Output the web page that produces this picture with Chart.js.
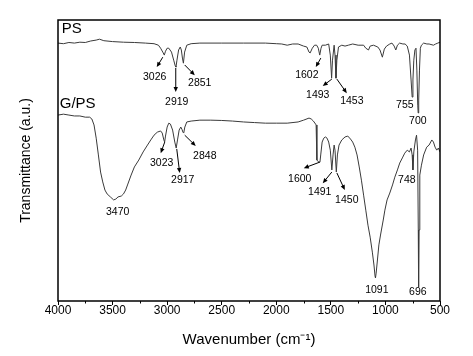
<!DOCTYPE html>
<html>
<head>
<meta charset="utf-8">
<script src="https://cdn.jsdelivr.net/npm/chart.js@4.4.0/dist/chart.umd.min.js"></script>
<style>
  html, body { margin: 0; padding: 0; background: #fff; }
  canvas { display: block; }
</style>
</head>
<body>
<canvas id="ftir" width="473" height="356"></canvas>
<script>
// wavenumber (cm-1) and transmittance (a.u.)
const psWave = [4000, 3950, 3900, 3850, 3800, 3750, 3700, 3650, 3620, 3580, 3500, 3400, 3300, 3200, 3120, 3080, 3060, 3040, 3026, 3015, 3000, 2985, 2960, 2940, 2925, 2919, 2910, 2895, 2880, 2870, 2860, 2851, 2840, 2820, 2780, 2700, 2500, 2300, 2100, 2000, 1950, 1900, 1850, 1800, 1750, 1720, 1700, 1690, 1670, 1650, 1630, 1615, 1602, 1590, 1580, 1550, 1520, 1505, 1493, 1485, 1470, 1462, 1453, 1445, 1430, 1400, 1370, 1340, 1300, 1250, 1200, 1180, 1155, 1140, 1110, 1070, 1050, 1028, 1010, 990, 960, 940, 920, 905, 890, 870, 840, 820, 800, 780, 765, 755, 748, 740, 730, 720, 712, 704, 700, 695, 688, 680, 670, 650, 620, 600, 560, 540, 520, 500]
const psT = [86.0, 85.8, 86.2, 86.0, 86.3, 86.2, 86.7, 87.0, 87.3, 86.8, 86.5, 86.3, 86.2, 86.0, 85.8, 85.3, 84.3, 83.0, 82.0, 83.3, 84.3, 84.3, 83.0, 80.3, 78.3, 78.0, 80.3, 83.7, 84.7, 83.7, 81.0, 79.3, 83.0, 85.3, 85.8, 86.0, 86.0, 86.0, 86.0, 85.8, 85.7, 85.3, 85.7, 85.7, 85.0, 84.7, 83.0, 82.7, 84.3, 85.3, 85.3, 84.3, 82.0, 84.3, 85.3, 85.3, 85.7, 82.0, 74.3, 80.3, 85.3, 82.0, 74.3, 80.3, 84.7, 85.3, 85.0, 85.3, 85.7, 85.3, 85.3, 84.3, 83.7, 85.0, 85.3, 84.7, 83.7, 81.3, 84.0, 85.0, 85.7, 86.0, 85.0, 83.7, 85.3, 86.0, 85.7, 85.7, 85.0, 82.0, 73.7, 68.0, 73.7, 80.3, 83.7, 84.3, 77.0, 65.3, 62.7, 67.0, 77.0, 84.3, 85.3, 86.0, 85.7, 85.7, 85.3, 85.7, 86.0, 86.3]

const gpsWave = [4000, 3950, 3900, 3850, 3800, 3750, 3710, 3690, 3670, 3650, 3630, 3610, 3590, 3570, 3550, 3520, 3490, 3470, 3450, 3420, 3400, 3380, 3360, 3330, 3300, 3260, 3220, 3180, 3150, 3120, 3090, 3060, 3045, 3030, 3023, 3015, 3000, 2985, 2970, 2950, 2930, 2917, 2905, 2890, 2875, 2865, 2855, 2848, 2838, 2820, 2780, 2700, 2600, 2500, 2400, 2300, 2200, 2100, 2000, 1900, 1800, 1750, 1700, 1680, 1660, 1640, 1635, 1628, 1610, 1600, 1592, 1580, 1565, 1550, 1535, 1520, 1505, 1491, 1480, 1470, 1462, 1450, 1440, 1425, 1400, 1370, 1345, 1320, 1300, 1280, 1260, 1240, 1220, 1200, 1180, 1160, 1140, 1120, 1105, 1095, 1091, 1085, 1075, 1060, 1045, 1035, 1020, 1005, 985, 960, 935, 914, 890, 869, 845, 823, 800, 780, 765, 755, 748, 740, 725, 715, 705, 699, 696, 692, 685, 670, 650, 622, 600, 575, 560, 545, 530, 515, 500]
const gpsT = [62.0, 62.3, 62.0, 61.7, 61.7, 61.3, 61.3, 60.7, 58.7, 54.3, 48.7, 43.0, 39.7, 37.0, 35.7, 34.7, 33.7, 34.0, 34.7, 35.0, 35.7, 37.0, 39.0, 42.0, 44.7, 47.0, 49.7, 52.0, 53.7, 55.3, 56.3, 56.7, 56.0, 53.7, 53.0, 55.0, 58.0, 59.3, 59.0, 57.0, 53.0, 51.0, 53.7, 57.0, 58.0, 57.3, 56.3, 56.0, 58.0, 59.7, 60.0, 60.3, 60.3, 60.2, 60.0, 59.7, 59.5, 59.3, 59.3, 59.3, 59.7, 60.3, 61.0, 60.7, 60.0, 59.0, 58.7, 47.0, 46.3, 46.3, 49.0, 53.0, 54.3, 54.7, 54.3, 53.0, 50.3, 43.7, 48.7, 52.0, 50.3, 43.0, 48.7, 52.0, 53.7, 54.7, 55.0, 54.0, 53.0, 51.3, 48.7, 44.7, 40.3, 35.3, 30.3, 25.3, 21.3, 16.3, 12.0, 8.3, 7.7, 9.3, 13.0, 18.7, 22.0, 24.0, 27.0, 30.3, 33.7, 36.0, 38.7, 41.3, 43.7, 46.0, 47.7, 49.3, 50.3, 49.7, 51.0, 48.7, 43.7, 49.7, 53.7, 55.3, 50.3, 23.7, 4.7, 23.7, 42.0, 45.3, 48.7, 51.3, 52.0, 53.7, 53.0, 51.3, 50.3, 51.0, 49.7]

const xTickStep = 500
const xMinorStep = 250

// peak labels: text position and optional arrow (from -> to), in wavenumber / transmittance
const notes = [
    {text: 'PS', x: 3966, y: 90.7, size: 15, align: 'left'},
    {text: 'G/PS', x: 3984, y: 65.7, size: 15, align: 'left'},
    {text: '3026', x: 3114, y: 74.7, arrow: [3040, 81.3, 3095, 78.0]},
    {text: '2919', x: 2912, y: 66.3, arrow: [2921, 77.7, 2921, 69.7]},
    {text: '2851', x: 2701, y: 72.7, arrow: [2839, 78.7, 2747, 75.3]},
    {text: '1602', x: 1720, y: 75.3, arrow: [1592, 81.0, 1638, 78.0]},
    {text: '1493', x: 1620, y: 68.7, arrow: [1491, 74.0, 1574, 71.7]},
    {text: '1453', x: 1308, y: 66.7, arrow: [1445, 74.0, 1354, 69.3]},
    {text: '755', x: 822, y: 65.3},
    {text: '700', x: 703, y: 60.0},
    {text: '3470', x: 3453, y: 29.7},
    {text: '3023', x: 3050, y: 46.0, arrow: [3022, 53.0, 3059, 49.3]},
    {text: '2917', x: 2857, y: 40.3, arrow: [2912, 50.7, 2885, 42.7]},
    {text: '2848', x: 2655, y: 48.3, arrow: [2839, 55.3, 2738, 51.7]},
    {text: '1600', x: 1785, y: 40.7, arrow: [1602, 46.3, 1748, 44.3]},
    {text: '1491', x: 1602, y: 36.3, arrow: [1491, 43.0, 1574, 39.3]},
    {text: '1450', x: 1354, y: 33.7, arrow: [1445, 42.7, 1372, 37.0]},
    {text: '748', x: 804, y: 40.3},
    {text: '1091', x: 1079, y: 3.7},
    {text: '696', x: 703, y: 3.0},
]

const fontFamily = '"Liberation Sans", Arial, sans-serif'

function toPoints(xs, ys) {
    return xs.map((x, i) => ({x: x, y: ys[i]}))
}

// frame around the plot plus short minor ticks on the x axis
const framePlugin = {
    id: 'frame',
    afterDraw(chart) {
        const {ctx, chartArea} = chart
        const xScale = chart.scales.x
        ctx.save()
        ctx.strokeStyle = '#000'
        ctx.lineWidth = 1
        for (let v = xScale.min + xMinorStep; v < xScale.max; v += xTickStep) {
            const px = Math.round(xScale.getPixelForValue(v)) + 0.5
            ctx.beginPath()
            ctx.moveTo(px, chartArea.bottom)
            ctx.lineTo(px, chartArea.bottom + 2.5)
            ctx.stroke()
        }
        ctx.lineWidth = 1.5
        ctx.strokeRect(chartArea.left, chartArea.top, chartArea.right - chartArea.left, chartArea.bottom - chartArea.top)
        ctx.restore()
    }
}

const notePlugin = {
    id: 'notes',
    afterDatasetsDraw(chart) {
        const {ctx} = chart
        const xs = chart.scales.x
        const ys = chart.scales.y
        ctx.save()
        ctx.fillStyle = '#000'
        ctx.strokeStyle = '#000'
        ctx.lineWidth = 1
        notes.forEach(n => {
            ctx.font = (n.size || 10.5) + 'px ' + fontFamily
            ctx.textAlign = n.align || 'center'
            ctx.textBaseline = 'middle'
            ctx.fillText(n.text, xs.getPixelForValue(n.x), ys.getPixelForValue(n.y))
            if (n.arrow) {
                const x1 = xs.getPixelForValue(n.arrow[0])
                const y1 = ys.getPixelForValue(n.arrow[1])
                const x2 = xs.getPixelForValue(n.arrow[2])
                const y2 = ys.getPixelForValue(n.arrow[3])
                const a = Math.atan2(y2 - y1, x2 - x1)
                ctx.beginPath()
                ctx.moveTo(x1, y1)
                ctx.lineTo(x2 - 3 * Math.cos(a), y2 - 3 * Math.sin(a))
                ctx.stroke()
                ctx.beginPath()
                ctx.moveTo(x2, y2)
                ctx.lineTo(x2 - 5 * Math.cos(a) + 2.2 * Math.sin(a), y2 - 5 * Math.sin(a) - 2.2 * Math.cos(a))
                ctx.lineTo(x2 - 5 * Math.cos(a) - 2.2 * Math.sin(a), y2 - 5 * Math.sin(a) + 2.2 * Math.cos(a))
                ctx.closePath()
                ctx.fill()
            }
        })
        ctx.restore()
    }
}

const lineStyle = {
    borderColor: '#3a3a3a',
    borderWidth: 1,
    pointRadius: 0,
    tension: 0,
    fill: false,
}

new Chart(document.getElementById('ftir'), {
    type: 'line',
    data: {
        datasets: [
            {label: 'PS', data: toPoints(psWave, psT), ...lineStyle},
            {label: 'G/PS', data: toPoints(gpsWave, gpsT), ...lineStyle},
        ]
    },
    options: {
        responsive: false,
        animation: false,
        devicePixelRatio: 1,
        layout: {padding: {top: 20, right: 33, left: 0, bottom: 0}},
        plugins: {legend: {display: false}, tooltip: {enabled: false}},
        scales: {
            x: {
                type: 'linear',
                reverse: true,
                min: 500,
                max: 4000,
                ticks: {
                    stepSize: xTickStep,
                    color: '#000',
                    font: {family: fontFamily, size: 12},
                    padding: -2,
                    maxRotation: 0,
                    autoSkip: false,
                    callback: value => String(value),
                },
                grid: {drawOnChartArea: false, tickLength: 4, tickColor: '#000', lineWidth: 1},
                border: {display: false},
                title: {display: true, text: 'Wavenumber (cm\u207B\u00B9)', color: '#000', font: {family: fontFamily, size: 15}, padding: {top: 0, bottom: 7}},
                afterFit(scale) { scale.height = 55 },
            },
            y: {
                min: 0,
                max: 93.7,
                ticks: {display: false},
                grid: {display: false},
                border: {display: false},
                title: {display: true, text: 'Transmittance (a.u.)', color: '#000', font: {family: fontFamily, size: 14}, padding: {top: 18, bottom: 0}},
                afterFit(scale) { scale.width = 58 },
            },
        }
    },
    plugins: [framePlugin, notePlugin]
})
</script>
</body>
</html>
